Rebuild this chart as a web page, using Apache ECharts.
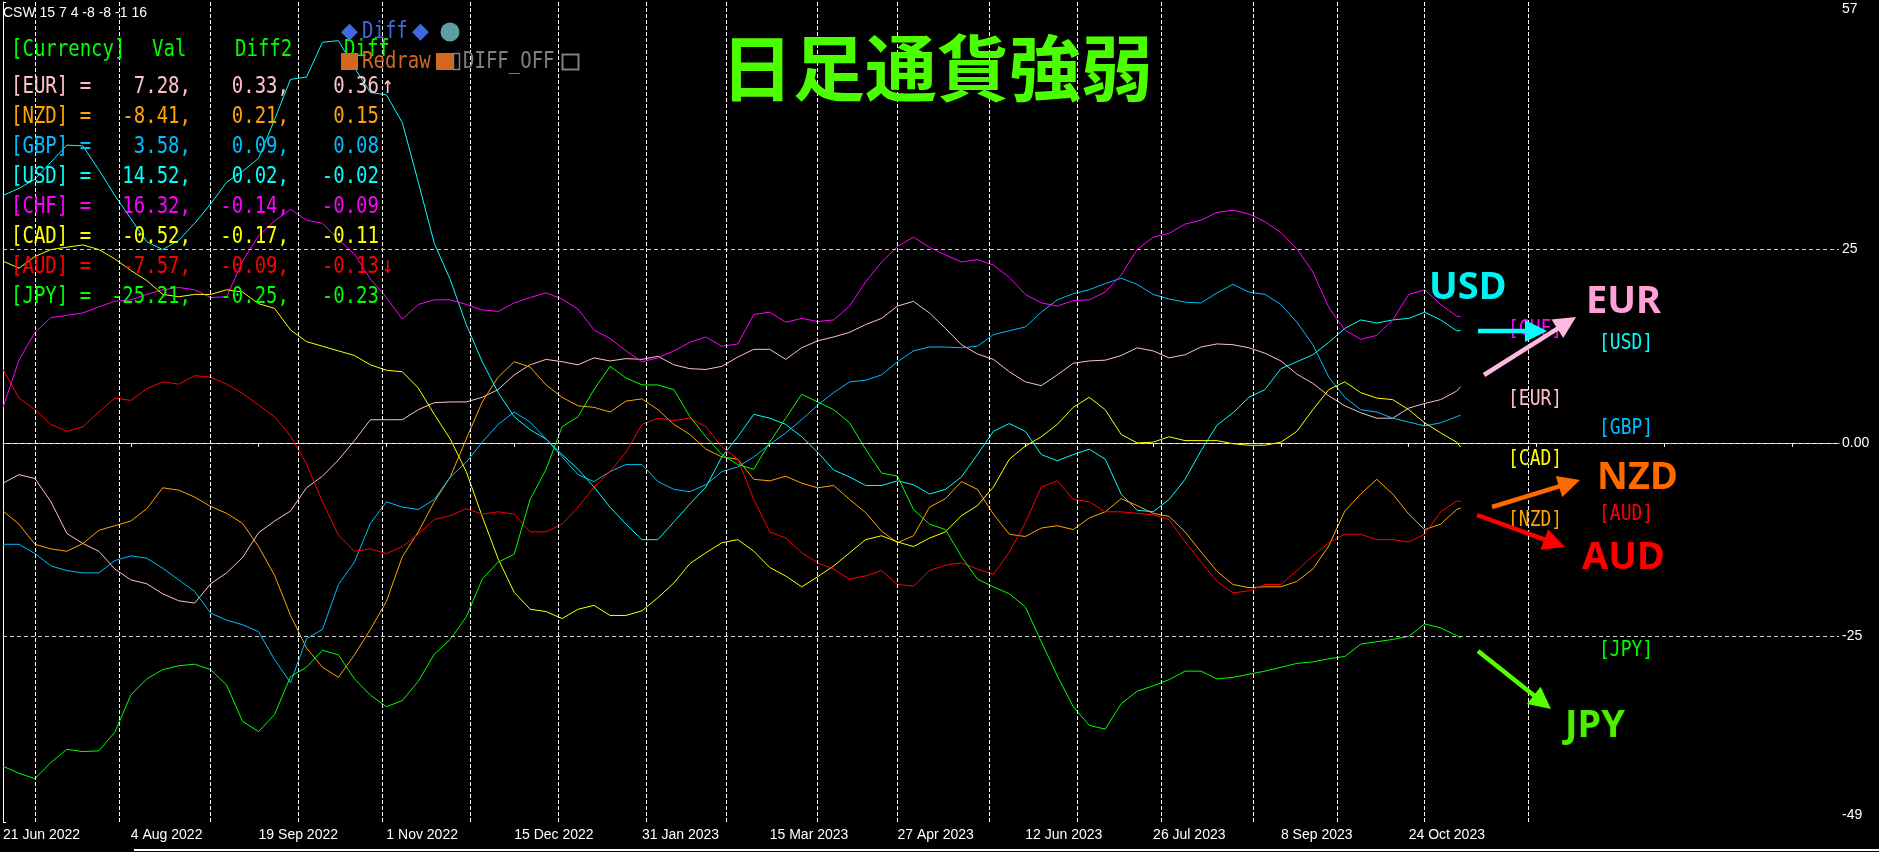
<!DOCTYPE html>
<html><head><meta charset="utf-8">
<script src="https://cdn.jsdelivr.net/npm/echarts@6/dist/echarts.min.js"></script>
<style>html,body{margin:0;padding:0;background:#000;overflow:hidden}#c{width:1879px;height:852px}</style>
</head><body><div id="c"></div>
<script>
// ---------- data ----------
const currencies = ['EUR','NZD','GBP','USD','CHF','CAD','AUD','JPY'];
const lineColors = ['#FFC0CB','#FFA500','#00BFFF','#00FFFF','#FF00FF','#FFFF00','#FF0000','#00FF00'];
const tickLabels = ['21 Jun 2022','4 Aug 2022','19 Sep 2022','1 Nov 2022','15 Dec 2022','31 Jan 2023',
  '15 Mar 2023','27 Apr 2023','12 Jun 2023','26 Jul 2023','8 Sep 2023','24 Oct 2023'];
const valCol   = [7.28, -8.41, 3.58, 14.52, 16.32, -0.52, -7.57, -25.21];
const diff2Col = ['0.33','0.21','0.09','0.02','-0.14','-0.17','-0.09','-0.25'];
const diffCol  = ['0.36','0.15','0.08','-0.02','-0.09','-0.11','-0.13','-0.23'];
const arrowCol = ['↑','','','','','','↓',''];
// values every 4 daily bars starting 21 Jun 2022 (bar 0..364); last bar (365) = valCol
const eurValues = [-5.2,-4.1,-4.6,-7.6,-11.7,-13.0,-14.0,-16.3,-17.7,-18.2,-19.5,-20.4,-20.7,-18.2,-16.8,-14.8,-11.6,-10.1,-8.8,-5.8,-4.3,-2.2,0.3,3.0,
 3.0,3.0,4.3,5.2,5.3,5.3,5.9,6.9,8.8,10.1,10.8,10.5,10.1,11.0,10.6,10.9,10.8,11.2,10.1,9.6,9.5,9.9,11.1,12.1,
 12.1,10.8,12.3,13.2,13.7,14.3,15.3,16.1,17.7,18.3,16.8,14.8,12.7,11.5,10.8,9.2,7.9,7.4,8.8,10.3,10.6,10.7,11.3,12.3,
 11.9,11.0,11.4,12.4,12.8,12.7,12.3,11.6,10.6,8.9,7.7,6.1,4.8,3.9,3.2,3.2,4.5,5.1,5.6,6.7];
const nzdValues = [-8.8,-10.5,-13.1,-13.7,-14.0,-13.0,-11.3,-10.7,-10.1,-8.5,-5.8,-6.1,-7.0,-8.2,-9.1,-10.4,-13.4,-17.1,-22.3,-26.5,-29.0,-30.3,-27.4,-24.1,
 -20.5,-14.7,-11.5,-7.6,-4.4,0.5,5.3,8.5,10.5,9.8,7.5,5.9,4.8,4.6,4.0,5.4,5.7,4.3,2.4,1.1,-0.8,-1.8,-2.1,-4.7,
 -4.9,-4.3,-5.2,-5.8,-5.5,-7.3,-9.0,-11.4,-12.9,-12.0,-8.3,-7.2,-5.0,-6.0,-9.2,-11.8,-12.1,-11.0,-10.7,-11.2,-9.7,-8.9,-7.2,-8.1,
 -9.1,-9.5,-11.5,-14.1,-16.6,-18.3,-18.7,-18.6,-18.6,-17.9,-16.3,-13.3,-8.8,-6.6,-4.7,-6.6,-9.2,-11.2,-10.5,-8.6];
const gbpValues = [-13.1,-13.1,-14.3,-15.9,-16.5,-16.8,-16.8,-15.2,-14.6,-14.9,-16.2,-17.7,-19.2,-22.0,-22.9,-23.5,-24.4,-28.0,-31.0,-25.3,-24.1,-18.3,-15.4,-10.4,
 -7.6,-8.3,-8.6,-7.3,-4.4,-2.5,0.1,2.4,4.0,2.7,0.5,-1.8,-4.1,-5.0,-3.7,-2.8,-2.8,-5.0,-6.0,-6.3,-5.4,-3.7,-3.1,-1.8,
 -0.2,1.3,3.0,4.9,6.5,7.9,8.1,8.8,10.5,11.9,12.4,12.4,12.3,12.5,14.0,14.5,15.0,16.9,18.5,19.3,19.8,20.6,21.3,20.5,
 19.2,18.6,18.2,18.1,19.4,20.5,19.5,19.2,17.9,15.6,12.7,8.5,5.9,4.3,4.0,3.2,2.7,2.2,2.6,3.4];
const usdValues = [32.0,32.9,34.1,36.3,38.5,38.4,35.3,32.0,29.0,26.0,25.0,26.2,28.4,30.9,33.7,35.1,36.8,41.8,47.0,47.3,51.8,52.0,48.5,45.3,
 45.0,41.4,33.7,25.8,21.1,15.3,10.5,6.5,3.4,1.7,0.5,-1.5,-3.4,-5.7,-8.3,-10.5,-12.5,-12.5,-10.2,-7.9,-5.7,-1.8,0.8,3.7,
 3.2,2.4,0.8,-1.2,-3.5,-4.4,-5.5,-5.5,-4.9,-5.4,-6.6,-6.0,-4.4,-1.5,1.5,2.5,1.5,-1.5,-2.3,-1.5,-0.8,-2.1,-6.6,-8.7,
 -8.9,-7.3,-4.7,-1.0,2.3,3.9,5.9,6.9,9.6,10.5,11.4,13.0,14.8,15.9,15.5,15.9,16.1,16.9,15.9,14.5];
const chfValues = [4.6,10.7,14.3,16.2,16.5,16.8,17.6,18.3,18.5,19.2,19.8,20.1,19.8,18.8,18.9,23.5,26.8,28.7,30.2,28.8,28.4,26.3,24.4,21.2,
 18.8,16.0,17.9,18.5,18.5,17.9,17.2,17.0,18.1,18.8,19.4,18.6,17.3,14.6,13.5,11.9,10.5,11.0,11.9,13.0,13.7,12.5,12.8,16.6,
 16.9,15.6,16.1,15.7,15.9,17.7,20.8,23.4,25.4,26.6,25.3,24.3,23.4,23.7,23.0,21.4,19.2,18.1,17.7,18.4,18.5,19.5,21.7,25.0,
 26.6,27.1,28.3,28.8,29.8,30.1,29.6,28.6,27.2,25.1,22.1,17.5,14.6,13.4,13.9,15.9,19.2,19.8,17.9,16.4];
const cadValues = [23.5,22.6,24.1,25.0,25.3,25.6,25.0,23.8,22.3,21.0,19.2,18.9,19.2,19.2,19.8,19.5,18.0,17.4,14.6,13.1,12.5,11.9,11.3,10.1,
 9.4,9.2,7.1,3.7,0.5,-3.7,-9.5,-15.0,-19.3,-21.5,-21.8,-22.7,-21.5,-21.0,-22.3,-22.3,-21.7,-20.0,-18.1,-15.6,-14.2,-12.9,-12.5,-14.0,
 -16.1,-17.2,-18.6,-17.3,-15.9,-14.2,-12.5,-12.0,-12.8,-13.4,-12.3,-11.5,-9.4,-8.1,-5.7,-2.1,-0.4,0.8,2.4,4.6,5.9,4.3,1.1,0.0,
 0.1,0.8,0.3,0.3,0.3,-0.1,-0.3,-0.3,0.1,1.5,4.3,6.9,7.9,6.5,5.8,5.6,4.3,2.6,1.3,0.1];
const audValues = [9.5,5.8,4.3,2.4,1.5,2.1,4.0,5.8,5.5,7.0,7.9,7.6,8.7,8.5,7.6,6.4,4.9,3.4,0.9,-2.7,-7.6,-11.9,-14.0,-13.7,
 -14.3,-13.4,-11.8,-9.9,-9.4,-8.5,-9.2,-8.9,-9.2,-11.5,-11.5,-10.5,-8.3,-5.7,-3.7,-1.2,2.4,3.2,2.9,3.2,2.1,-0.5,-2.1,-7.3,
 -11.5,-12.3,-14.2,-15.5,-16.3,-17.6,-17.2,-16.5,-18.3,-18.5,-16.5,-15.8,-15.5,-16.3,-17.0,-14.1,-10.3,-5.7,-4.9,-7.3,-7.6,-8.9,-8.9,-9.1,
 -9.3,-9.9,-12.8,-15.4,-17.9,-19.4,-19.1,-18.3,-18.3,-16.5,-14.6,-12.9,-11.8,-11.8,-12.5,-12.5,-12.8,-11.8,-8.9,-7.5];
const jpyValues = [-41.8,-42.7,-43.4,-41.3,-39.6,-39.9,-39.8,-37.4,-32.6,-30.5,-29.3,-28.8,-28.6,-29.3,-31.3,-36.0,-37.3,-35.1,-30.2,-29.0,-26.8,-27.4,-30.5,-32.6,
 -34.1,-33.3,-30.8,-27.3,-25.4,-22.5,-17.6,-15.4,-14.4,-7.3,-3.4,2.1,3.4,6.9,9.9,8.4,7.5,7.5,6.9,3.4,0.8,-1.5,-2.8,-3.4,
 0.1,3.2,6.3,5.3,4.3,2.6,-0.8,-3.9,-4.3,-8.6,-10.5,-11.2,-14.7,-17.6,-18.6,-19.5,-21.2,-25.7,-30.1,-34.1,-36.5,-37.0,-33.7,-32.1,
 -31.4,-30.6,-29.5,-29.5,-30.5,-30.3,-29.9,-29.5,-29.0,-28.5,-28.3,-27.9,-27.6,-26.0,-25.7,-25.4,-25.0,-23.4,-23.9,-24.9];
const seriesValues = [eurValues,nzdValues,gbpValues,usdValues,chfValues,cadValues,audValues,jpyValues];
const STEP = 4, LAST_BAR = 365, AXIS_BARS = 459.75;

// month separators: trading-day calendar from 21 Jun 2022 up to the last bar,
// calendar days in the empty future area; only the first future month is marked
const monthBars = [];
(function(){
  let t = Date.UTC(2022,5,21), bar = 0, pm = 5, futureMarked = false;
  while (bar < AXIS_BARS && !futureMarked) {
    t += 86400000; const d = new Date(t), wd = d.getUTCDay();
    if (bar < LAST_BAR && (wd === 0 || wd === 6)) continue;
    bar++;
    if (d.getUTCMonth() !== pm) {
      pm = d.getUTCMonth(); monthBars.push(bar);
      if (bar > LAST_BAR) futureMarked = true;
    }
  }
})();

const MONO = '"DejaVu Sans Mono", monospace';
const chart = echarts.init(document.getElementById('c'), null, {renderer:'canvas'});

const series = currencies.map((c,i)=>({
  name:c, type:'line', z:3, silent:true, showSymbol:false, symbol:'none', animation:false,
  lineStyle:{color:lineColors[i], width:1},
  data: seriesValues[i].map((v,k)=>[k*STEP, v]).concat([[LAST_BAR, valCol[i]]])
}));
series.unshift({
  type:'line', z:1, data:[], silent:true, animation:false,
  markLine:{ silent:true, symbol:['none','none'], label:{show:false}, animation:false,
    lineStyle:{color:'#ffffff', width:1, type:[4,2]},
    data: monthBars.map(b=>({xAxis:b})).concat([25,0,-25].map(v=>({yAxis:v, lineStyle:{color:'#c8c8c8', width:1, type:[4,3]}})))
  }
});

chart.setOption({
  backgroundColor:'#000000',
  animation:false,
  grid:{left:0, right:40, top:2, bottom:30, containLabel:false},
  xAxis:{ type:'value', min:0, max:AXIS_BARS, interval:32,
    axisLine:{show:true, lineStyle:{color:'#ffffff', width:1}},
    axisTick:{show:true, length:4, lineStyle:{color:'#ffffff'}},
    splitLine:{show:false},
    axisLabel:{ color:'#ffffff', fontFamily:'"Liberation Sans", Arial, sans-serif', fontSize:14, align:'left', margin:6,
      showMaxLabel:false, formatter:v=>tickLabels[v/32] || '' } },
  yAxis:{ type:'value', position:'right', min:-49, max:57,
    axisLine:{show:true, lineStyle:{color:'#ffffff', width:1}},
    axisTick:{show:true, length:3, customValues:[-49,-25,0,25,57], lineStyle:{color:'#ffffff'}},
    splitLine:{show:false},
    axisLabel:{ color:'#ffffff', fontFamily:'"Liberation Sans", Arial, sans-serif', fontSize:14, margin:3,
      customValues:[-49,-25,0,25,57], verticalAlignMaxLabel:'top', verticalAlignMinLabel:'bottom',
      formatter:v=> v===0 ? '0.00' : String(v) } },
  series
});

// ---------- text / annotations ----------
function txt(text, x, y, color, font, align, vAlign, sy){
  return {type:'text', x, y, z:100, scaleY: sy||1, silent:true,
    style:{text, fill:color, font, align:align||'left', verticalAlign:vAlign||'middle',
      textAlign:align||'left', textVerticalAlign:vAlign||'middle'}};
}
function arrow(x1,y1,x2,y2,color){
  const dx=x2-x1, dy=y2-y1, L=Math.hypot(dx,dy), ux=dx/L, uy=dy/L, hl=22, hw=11;
  const bx=x2-ux*hl, by=y2-uy*hl;
  return [
    {type:'line', z:110, silent:true, shape:{x1, y1, x2:bx+ux*2, y2:by+uy*2}, style:{stroke:color, lineWidth:4.5}},
    {type:'polygon', z:110, silent:true, shape:{points:[[x2,y2],[bx-uy*hw,by+ux*hw],[bx+uy*hw,by-ux*hw]]}, style:{fill:color}}
  ];
}
const tf = '19px ' + MONO, SY = 1.25;
const g = [];
g.push(txt('CSW 15 7 4 -8 -8 -1 16', 3, 13, '#ffffff', '14px "Liberation Sans", Arial, sans-serif'));
// header
g.push(txt('[Currency]', 11, 50, '#00FF00', tf, 'left', 'middle', SY));
g.push(txt('Val', 152, 50, '#00FF00', tf, 'left', 'middle', SY));
g.push(txt('Diff2', 235, 50, '#00FF00', tf, 'left', 'middle', SY));
g.push(txt('Diff', 344, 50, '#00FF00', tf, 'left', 'middle', SY));
currencies.forEach((c,i)=>{
  const y = 87 + 30*i, col = lineColors[i];
  g.push(txt('['+c+'] =', 11, y, col, tf, 'left', 'middle', SY));
  g.push(txt(valCol[i].toFixed(2)+',', 191, y, col, tf, 'right', 'middle', SY));
  g.push(txt(diff2Col[i]+',', 289, y, col, tf, 'right', 'middle', SY));
  g.push(txt(diffCol[i], 379, y, col, tf, 'right', 'middle', SY));
  if (arrowCol[i]) g.push(txt(arrowCol[i], 382, y, col, tf, 'left', 'middle', SY));
});
// buttons
const sym = '22px "DejaVu Sans", sans-serif';
g.push(txt('◆', 341, 32, '#4169E1', sym));
g.push(txt('Diff', 362, 32, '#4169E1', tf, 'left', 'middle', SY));
g.push(txt('◆', 412, 32, '#4169E1', sym));
g.push({type:'circle', z:100, silent:true, shape:{cx:450, cy:32, r:9.5}, style:{fill:'#5F9EA0'}});
g.push({type:'rect', z:100, silent:true, shape:{x:341, y:53, width:17, height:17}, style:{fill:'#D2691E'}});
g.push(txt('Redraw', 362, 62, '#D2691E', tf, 'left', 'middle', SY));
g.push({type:'rect', z:100, silent:true, shape:{x:436, y:53, width:17, height:17}, style:{fill:'#D2691E'}});
g.push({type:'rect', z:100, silent:true, shape:{x:453.5, y:53.5, width:6, height:16}, style:{fill:'none', stroke:'#808080', lineWidth:1.5}});
g.push(txt('DIFF_OFF', 463, 62, '#808080', tf, 'left', 'middle', SY));
g.push({type:'rect', z:100, silent:true, shape:{x:562.5, y:54.5, width:16, height:15}, style:{fill:'none', stroke:'#808080', lineWidth:2}});
// title
g.push(txt('日足通貨強弱', 721, 68, '#4CFF00', 'bold 72px "Noto Sans CJK JP", sans-serif'));
// bracket labels by rank of current value
const order = currencies.map((c,i)=>i).sort((a,b)=>valCol[b]-valCol[a]);
order.forEach((idx,rank)=>{
  const py = chart.convertToPixel({yAxisIndex:0}, valCol[idx]);
  const x = rank % 2 === 0 ? 1508 : 1599;
  g.push(txt('['+currencies[idx]+']', x, py+2, lineColors[idx], '18px '+MONO, 'left', 'top', 1.2));
});
// big labels and arrows
const bf = 'bold 38px "Noto Sans", sans-serif';
g.push(txt('USD', 1429, 288, '#00F2F2', bf));
g.push(txt('EUR', 1586, 302, '#FFA0D8', bf));
g.push(txt('NZD', 1597, 478, '#FF6A00', bf));
g.push(txt('AUD', 1582, 558, '#FF0000', bf));
g.push(txt('JPY', 1565, 726, '#4CEE00', bf));
g.push(...arrow(1478,331,1547,331,'#00FFFF'));
g.push(...arrow(1484,375,1576,317,'#FFB8E0'));
g.push(...arrow(1492,507,1580,480,'#FF6A00'));
g.push(...arrow(1477,515,1565,547,'#FF0000'));
g.push(...arrow(1478,651,1551,709,'#55FF00'));
// bottom strip
g.push({type:'rect', z:100, silent:true, shape:{x:134, y:849, width:1745, height:2}, style:{fill:'#ffffff'}});
chart.setOption({graphic: g});
</script>
</body></html>
